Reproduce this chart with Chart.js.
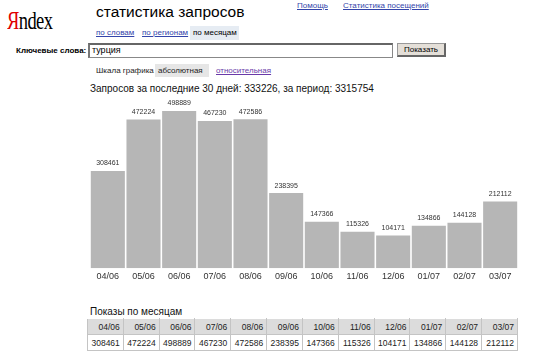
<!DOCTYPE html>
<html>
<head>
<meta charset="utf-8">
<script src="https://cdn.jsdelivr.net/npm/chart.js@4/dist/chart.umd.min.js"></script>
<style>
  html,body{margin:0;padding:0;background:#fff;width:536px;height:363px;overflow:hidden;font-family:"Liberation Sans",Arial,sans-serif;color:#000;}
  .a{position:absolute;white-space:nowrap;}
  .lnk{color:#3344aa;text-decoration:underline;}
  #logo{left:7px;top:7px;font-family:"Liberation Serif","Times New Roman",serif;font-size:25px;transform:scaleX(0.74);transform-origin:left top;letter-spacing:-0.8px;}
  #logo span{color:#e00000;}
  table{border-collapse:collapse;font-size:8.5px;color:#222;table-layout:fixed;width:431px;}
  td{border:1px solid #c4c4c4;text-align:right;padding:0 3px 0 0;height:15px;overflow:hidden;}
  tr.h td{background:#dcdcdc;border-color:#fff #c4c4c4 #c4c4c4 #c4c4c4;}
</style>
</head>
<body>
<div class="a" id="logo"><span>Я</span>ndex</div>
<div class="a" style="left:96px;top:3px;font-size:15.5px;">статистика запросов</div>
<div class="a lnk" style="left:297px;top:1px;font-size:8px;">Помощь</div>
<div class="a lnk" style="left:343px;top:1px;font-size:8px;">Статистика посещений</div>
<div class="a lnk" style="left:96px;top:28px;font-size:8px;">по словам</div>
<div class="a lnk" style="left:142px;top:28px;font-size:8px;">по регионам</div>
<div class="a" style="left:190px;top:26px;width:49px;height:14px;background:#e6ecf3;"></div>
<div class="a" style="left:193px;top:28px;font-size:8px;">по месяцам</div>
<div class="a" style="left:16px;top:46px;font-size:8px;font-weight:bold;">Ключевые слова:</div>
<div class="a" style="left:88px;top:43px;width:302px;height:12px;border:1px solid #888;border-top:2px solid #666;border-left:2px solid #777;background:#fff;"></div>
<div class="a" style="left:92px;top:45px;font-size:9px;">турция</div>
<div class="a" style="left:397px;top:43px;width:49px;height:14px;background:#e4dfd8;border:1px solid #999;border-right:2px solid #666;border-bottom:2px solid #666;box-sizing:border-box;font-size:8px;text-align:center;line-height:12px;">Показать</div>
<div class="a" style="left:96px;top:66px;font-size:8px;color:#222;">Шкала графика</div>
<div class="a" style="left:155px;top:64px;width:54px;height:13px;background:#e6e6e6;"></div>
<div class="a" style="left:158px;top:66px;font-size:8px;color:#222;">абсолютная</div>
<div class="a" style="left:216px;top:66px;font-size:8px;color:#6a3aa8;text-decoration:underline;">относительная</div>
<div class="a" id="summary" style="left:90px;top:83px;font-size:10px;color:#111;"></div>
<div class="a" style="left:90px;top:95px;width:428px;height:190px;"><canvas id="c"></canvas></div>
<div class="a" style="left:90px;top:306px;font-size:10px;color:#111;">Показы по месяцам</div>
<div class="a" style="left:87px;top:318px;"><table id="tbl"></table></div>
<script>
const categories = ["04/06","05/06","06/06","07/06","08/06","09/06","10/06","11/06","12/06","01/07","02/07","03/07"];
const values = [308461,472224,498889,467230,472586,238395,147366,115326,104171,134866,144128,212112];
const last30 = 333226;
const periodTotal = 3315754;

document.getElementById('summary').textContent =
  'Запросов за последние 30 дней: ' + last30 + ', за период: ' + periodTotal;

const tbl = document.getElementById('tbl');
const hr = document.createElement('tr'); hr.className = 'h';
const dr = document.createElement('tr');
categories.forEach((c,i)=>{
  const th = document.createElement('td'); th.textContent = c; hr.appendChild(th);
  const td = document.createElement('td'); td.textContent = values[i]; dr.appendChild(td);
});
tbl.appendChild(hr); tbl.appendChild(dr);

const barLabels = {
  id:'barLabels',
  afterDatasetsDraw(chart){
    const ctx = chart.ctx;
    const meta = chart.getDatasetMeta(0);
    ctx.save();
    ctx.font = '7px "Liberation Sans", Arial, sans-serif';
    ctx.fillStyle = '#333';
    ctx.textAlign = 'center';
    ctx.textBaseline = 'bottom';
    meta.data.forEach((el,i)=>{
      ctx.fillText(String(chart.data.datasets[0].data[i]), el.x, el.y - 4);
    });
    ctx.restore();
  }
};

new Chart(document.getElementById('c'), {
  type:'bar',
  data:{labels:categories, datasets:[{data:values, backgroundColor:'#b6b6b6', borderWidth:0, categoryPercentage:1, barPercentage:0.955}]},
  options:{
    responsive:true, maintainAspectRatio:false, devicePixelRatio:1, animation:false,
    layout:{padding:{top:5,left:0,right:0,bottom:0}},
    plugins:{legend:{display:false}, tooltip:{enabled:false}},
    scales:{
      x:{grid:{display:false, drawTicks:false}, border:{display:false},
         ticks:{font:{size:9, family:'"Liberation Sans", Arial, sans-serif'}, color:'#333', padding:3, maxRotation:0, autoSkip:false}},
      y:{display:false, min:0, max:534000}
    }
  },
  plugins:[barLabels]
});
</script>
</body>
</html>
